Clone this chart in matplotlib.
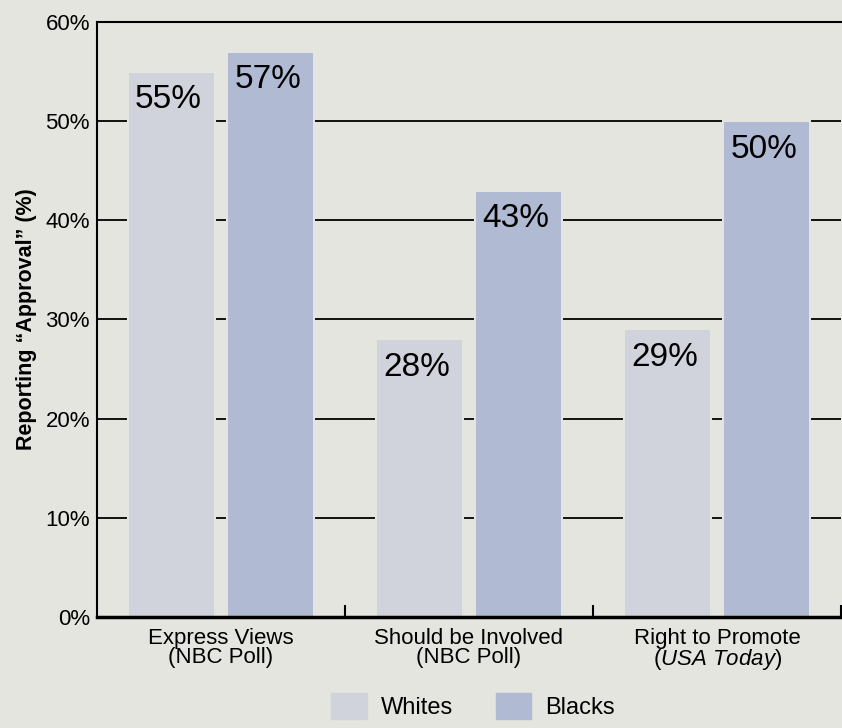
import matplotlib
matplotlib.use("Agg")
import matplotlib.pyplot as plt
from matplotlib.patches import Patch
import numpy as np

# --- data ---
categories = ["Express Views\n(NBC Poll)",
              "Should be Involved\n(NBC Poll)",
              "Right to Promote\n($\\mathit{USA\\ Today}$)"]
whites = [55, 28, 29]
blacks = [57, 43, 50]
series_names = ["Whites", "Blacks"]
yticks = [0, 10, 20, 30, 40, 50, 60]

# --- style ---
plt.rcParams["font.family"] = ["Liberation Sans", "DejaVu Sans"]
plt.rcParams["mathtext.fontset"] = "custom"
plt.rcParams["mathtext.it"] = "Liberation Sans:italic"
plt.rcParams["mathtext.rm"] = "Liberation Sans"

bg = "#e4e5de"
c_white = "#d0d3db"
c_black = "#b0bad3"

fig = plt.figure(figsize=(8.42, 7.28), dpi=100, facecolor=bg)
ax = fig.add_axes([0.115, 0.1525, 0.884, 0.8173], facecolor=bg)

x = np.arange(len(categories)) + 0.5
w = 0.35
off = 0.2

# gridlines behind bars
for t in yticks[1:-1]:
    ax.axhline(t, color="black", lw=1.3, zorder=1)

b1 = ax.bar(x - off, whites, w, color=c_white, edgecolor=bg, linewidth=1.5, zorder=2)
b2 = ax.bar(x + off, blacks, w, color=c_black, edgecolor=bg, linewidth=1.5, zorder=2)

for bars, vals in [(b1, whites), (b2, blacks)]:
    for r, v in zip(bars, vals):
        ax.annotate(f"{v}%", (r.get_x() + r.get_width() / 2, v),
                    xytext=(-2, -9), textcoords="offset points",
                    ha="center", va="top", fontsize=24, zorder=3)

ax.set_xlim(0, 3)
ax.set_ylim(0, 60)
ax.set_yticks(yticks)
ax.set_yticklabels([f"{t}%" for t in yticks], fontsize=16)
ax.tick_params(axis="y", length=0, pad=5)

ax.set_xticks(x)
ax.set_xticklabels(categories, fontsize=16, linespacing=0.9)
ax.tick_params(axis="x", which="major", length=0, pad=8)
ax.set_xticks([1, 2, 3], minor=True)
ax.tick_params(axis="x", which="minor", direction="in", length=9, width=1.5, color="black")

ax.set_ylabel("Reporting \u201cApproval\u201d (%)", fontsize=15.5, fontweight="bold", labelpad=6)

for s in ["left", "top"]:
    ax.spines[s].set_color("black")
    ax.spines[s].set_linewidth(1.5)
ax.spines["right"].set_visible(False)
ax.spines["bottom"].set_color("black")
ax.spines["bottom"].set_linewidth(2.5)

handles = [Patch(facecolor=c_white, edgecolor=c_white),
           Patch(facecolor=c_black, edgecolor=c_black)]
fig.legend(handles, series_names, loc="center", bbox_to_anchor=(0.562, 0.03),
           ncol=2, frameon=False, fontsize=17, handlelength=1.5, handleheight=1.3,
           handletextpad=0.6, columnspacing=1.8)

plt.savefig("out.png", dpi=100, facecolor=bg)
